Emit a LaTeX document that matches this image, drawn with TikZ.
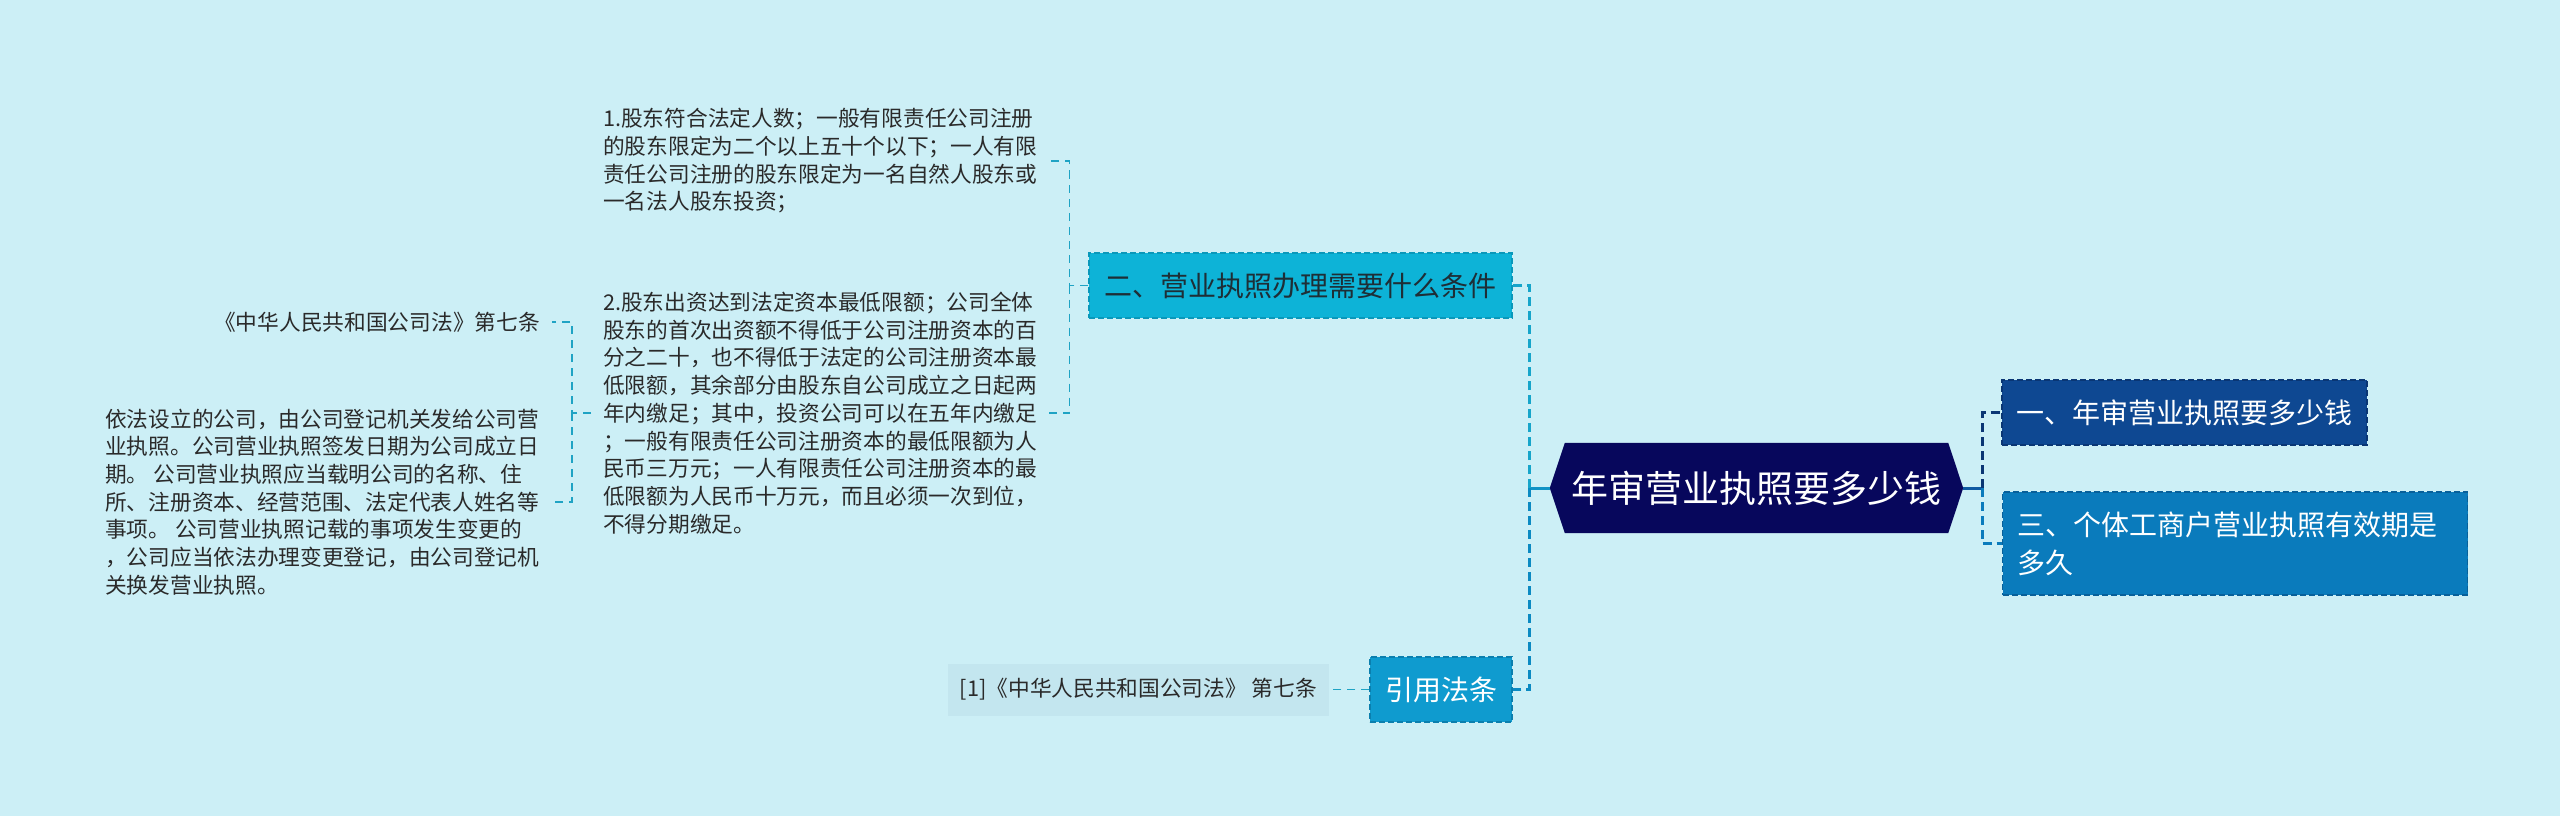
\documentclass[tikz,border=0pt]{standalone}
\usepackage{fontspec}
\newfontfamily\cjk{Noto Sans CJK SC}
\usetikzlibrary{backgrounds,calc}
\definecolor{bg}{HTML}{CCEFF6}
\definecolor{txtc}{HTML}{2A2A2A}
\definecolor{txtd}{HTML}{1E2E36}
\definecolor{condc}{HTML}{0DB3D7}
\definecolor{condb}{HTML}{0A98BA}
\definecolor{citec}{HTML}{0F9BCF}
\definecolor{citeb}{HTML}{0B7FAE}
\definecolor{refc}{HTML}{C3E6EF}
\definecolor{mainc}{HTML}{07075C}
\definecolor{n1c}{HTML}{0E4892}
\definecolor{n1b}{HTML}{0A3674}
\definecolor{n3c}{HTML}{0A7BBC}
\definecolor{n3b}{HTML}{08609A}
\definecolor{linkc}{HTML}{1FA3C4}
\definecolor{linkA}{HTML}{16A5CA}
\definecolor{linkB}{HTML}{0B8AC2}
\definecolor{stemL}{HTML}{1193C5}
\definecolor{stemR}{HTML}{0F5AA2}
\begin{document}
\begin{tikzpicture}[x=1bp,y=-1bp,
  txt/.style={font=\cjk\fontsize{21.7bp}{27.7bp}\selectfont, text=txtc, align=left, inner xsep=12bp, inner ysep=2bp},
  thinlink/.style={draw=linkc, line width=1.8bp, dash pattern=on 8bp off 6bp},
  trunk/.style={line width=3bp, dash pattern=on 9bp off 5bp},
  box/.style={font=\cjk\fontsize{28bp}{38bp}\selectfont, minimum height=65bp, inner sep=0bp, dash pattern=on 6bp off 3bp, line width=1.2bp},
]
\begin{pgfonlayer}{background}
\fill[bg] (0,0) rectangle (2560,816);
\end{pgfonlayer}
\useasboundingbox (0,0) rectangle (2560,816);

\node[txt, anchor=west] (t1) at (591,161) {1.股东符合法定人数；一般有限责任公司注册\\的股东限定为二个以上五十个以下；一人有限\\责任公司注册的股东限定为一名自然人股东或\\一名法人股东投资；};
\node[txt, anchor=west] (t2) at (591,413) {2.股东出资达到法定资本最低限额；公司全体\\股东的首次出资额不得低于公司注册资本的百\\分之二十，也不得低于法定的公司注册资本最\\低限额，其余部分由股东自公司成立之日起两\\年内缴足；其中，投资公司可以在五年内缴足\\；一般有限责任公司注册资本的最低限额为人\\民币三万元；一人有限责任公司注册资本的最\\低限额为人民币十万元，而且必须一次到位，\\不得分期缴足。};
\node[txt, anchor=east, align=right] (law7) at (552,322) {《中华人民共和国公司法》第七条};
\node[txt, anchor=west] (law7b) at (93,502) {依法设立的公司，由公司登记机关发给公司营\\业执照。公司营业执照签发日期为公司成立日\\期。 公司营业执照应当载明公司的名称、住\\所、注册资本、经营范围、法定代表人姓名等\\事项。 公司营业执照记载的事项发生变更的\\，公司应当依法办理变更登记，由公司登记机\\关换发营业执照。};

\node[box, fill=condc, draw=condb, text=txtd, minimum width=423bp] (cond) at (1300.5,285.5) {二、营业执照办理需要什么条件};
\node[box, fill=citec, draw=citeb, text=white, minimum width=142bp] (cite) at (1441,689.5) {引用法条};
\node[font=\cjk\fontsize{21.7bp}{26bp}\selectfont, fill=refc, text=txtc, minimum width=381bp, minimum height=52bp, inner sep=0bp] (ref) at (1138.5,689.5) {[1]《中华人民共和国公司法》 第七条};
\node[font=\cjk\fontsize{37bp}{44bp}\selectfont, text=white, minimum width=383bp, minimum height=90bp, inner sep=0bp] (main) at (1756.5,488) {年审营业执照要多少钱};
\node[box, fill=n1c, draw=n1b, text=white, minimum width=365bp] (n1) at (2184.5,412.5) {一、年审营业执照要多少钱};
\node[box, fill=n3c, draw=n3b, text=white, anchor=west, align=left, text width=435bp, inner xsep=15bp, minimum height=103bp] (n3) at (2002,543.5) {三、个体工商户营业执照有效期是\\多久};

\begin{pgfonlayer}{background}
\fill[mainc] ([xshift=-15bp]main.west) -- (main.north west) -- (main.north east) -- ([xshift=15bp]main.east) -- (main.south east) -- (main.south west) -- cycle;
\end{pgfonlayer}

\coordinate (mL) at ([xshift=-15bp]main.west);
\coordinate (mR) at ([xshift=15bp]main.east);
\draw[line width=3bp, draw=stemL] (mL) -- ++(-20,0) coordinate (jL);
\draw[trunk, draw=linkA] (jL) |- (cond.east);
\draw[trunk, draw=linkB] (jL) |- (cite.east);
\draw[line width=3bp, draw=stemR] (mR) -- ++(19,0) coordinate (jR);
\draw[trunk, draw=n1b] (jR) |- (n1.west);
\draw[trunk, draw=n3c] (jR) |- (n3.west);
\draw[thinlink] (cond.west) -- ++(-19,0) coordinate (jc) |- (t1.east);
\draw[thinlink] (jc) |- (t2.east);
\draw[thinlink] (t2.west) -- ++(-19,0) coordinate (jt) |- (law7.east);
\draw[thinlink] (jt) |- (law7b.east);
\draw[thinlink] (cite.west) -- (ref.east);
\end{tikzpicture}
\end{document}
